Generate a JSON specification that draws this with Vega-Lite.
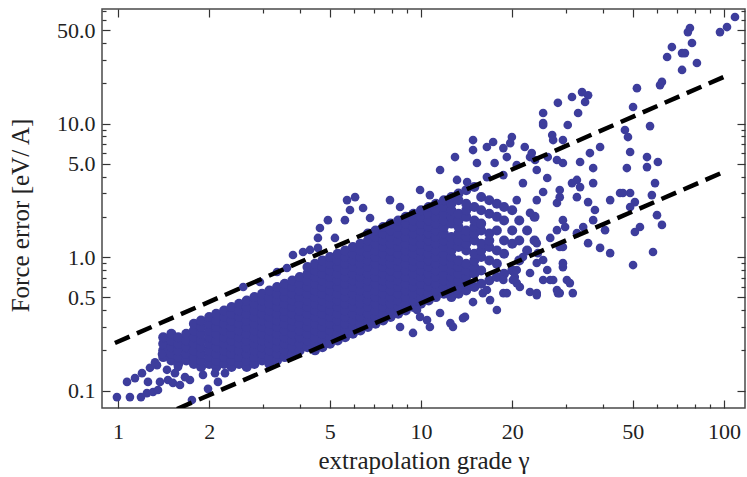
{
"$schema":"https://vega.github.io/schema/vega-lite/v6.json",
"width":643,"height":399,
"autosize":{"type":"none"},
"padding":{"left":102,"top":9,"right":2,"bottom":69},
"background":"white",
"config":{
 "view":{"stroke":"#4a4a4a","strokeWidth":1.5},
 "axis":{"domain":false,"grid":false,"tickColor":"#333","tickWidth":1.2,"labelFont":"Liberation Serif","labelFontSize":22,"labelColor":"#222","labelFlush":false,"labelOverlap":false,"titleFont":"Liberation Serif","titleFontSize":25,"titleFontWeight":"normal","titleColor":"#222"}
},
"datasets":{
"core":[
{"gamma":1.41,"error":0.178},{"gamma":1.41,"error":0.2},{"gamma":1.41,"error":0.224},{"gamma":1.41,"error":0.251},
{"gamma":1.5,"error":0.168},{"gamma":1.5,"error":0.188},{"gamma":1.5,"error":0.211},{"gamma":1.5,"error":0.237},{"gamma":1.5,"error":0.266},
{"gamma":1.58,"error":0.158},{"gamma":1.58,"error":0.178},{"gamma":1.58,"error":0.2},{"gamma":1.58,"error":0.224},{"gamma":1.58,"error":0.251},
{"gamma":1.68,"error":0.168},{"gamma":1.68,"error":0.188},{"gamma":1.68,"error":0.211},{"gamma":1.68,"error":0.237},{"gamma":1.68,"error":0.266},
{"gamma":1.78,"error":0.158},{"gamma":1.78,"error":0.178},{"gamma":1.78,"error":0.2},{"gamma":1.78,"error":0.224},{"gamma":1.78,"error":0.251},{"gamma":1.78,"error":0.282},{"gamma":1.78,"error":0.316},
{"gamma":1.88,"error":0.15},{"gamma":1.88,"error":0.168},{"gamma":1.88,"error":0.188},{"gamma":1.88,"error":0.211},{"gamma":1.88,"error":0.237},{"gamma":1.88,"error":0.266},{"gamma":1.88,"error":0.299},{"gamma":1.88,"error":0.335},
{"gamma":2.0,"error":0.158},{"gamma":2.0,"error":0.178},{"gamma":2.0,"error":0.2},{"gamma":2.0,"error":0.224},{"gamma":2.0,"error":0.251},{"gamma":2.0,"error":0.282},{"gamma":2.0,"error":0.316},{"gamma":2.0,"error":0.355},
{"gamma":2.11,"error":0.15},{"gamma":2.11,"error":0.168},{"gamma":2.11,"error":0.188},{"gamma":2.11,"error":0.211},{"gamma":2.11,"error":0.237},{"gamma":2.11,"error":0.266},{"gamma":2.11,"error":0.299},{"gamma":2.11,"error":0.335},{"gamma":2.11,"error":0.376},
{"gamma":2.24,"error":0.158},{"gamma":2.24,"error":0.178},{"gamma":2.24,"error":0.2},{"gamma":2.24,"error":0.224},{"gamma":2.24,"error":0.251},{"gamma":2.24,"error":0.282},{"gamma":2.24,"error":0.316},{"gamma":2.24,"error":0.355},{"gamma":2.24,"error":0.398},
{"gamma":2.37,"error":0.15},{"gamma":2.37,"error":0.168},{"gamma":2.37,"error":0.188},{"gamma":2.37,"error":0.211},{"gamma":2.37,"error":0.237},{"gamma":2.37,"error":0.266},{"gamma":2.37,"error":0.299},{"gamma":2.37,"error":0.335},{"gamma":2.37,"error":0.376},{"gamma":2.37,"error":0.422},
{"gamma":2.51,"error":0.158},{"gamma":2.51,"error":0.178},{"gamma":2.51,"error":0.2},{"gamma":2.51,"error":0.224},{"gamma":2.51,"error":0.251},{"gamma":2.51,"error":0.282},{"gamma":2.51,"error":0.316},{"gamma":2.51,"error":0.355},{"gamma":2.51,"error":0.398},{"gamma":2.51,"error":0.447},
{"gamma":2.66,"error":0.15},{"gamma":2.66,"error":0.168},{"gamma":2.66,"error":0.188},{"gamma":2.66,"error":0.211},{"gamma":2.66,"error":0.237},{"gamma":2.66,"error":0.266},{"gamma":2.66,"error":0.299},{"gamma":2.66,"error":0.335},{"gamma":2.66,"error":0.376},{"gamma":2.66,"error":0.422},{"gamma":2.66,"error":0.473},
{"gamma":2.82,"error":0.158},{"gamma":2.82,"error":0.178},{"gamma":2.82,"error":0.2},{"gamma":2.82,"error":0.224},{"gamma":2.82,"error":0.251},{"gamma":2.82,"error":0.282},{"gamma":2.82,"error":0.316},{"gamma":2.82,"error":0.355},{"gamma":2.82,"error":0.398},{"gamma":2.82,"error":0.447},{"gamma":2.82,"error":0.501},
{"gamma":2.99,"error":0.168},{"gamma":2.99,"error":0.188},{"gamma":2.99,"error":0.211},{"gamma":2.99,"error":0.237},{"gamma":2.99,"error":0.266},{"gamma":2.99,"error":0.299},{"gamma":2.99,"error":0.335},{"gamma":2.99,"error":0.376},{"gamma":2.99,"error":0.422},{"gamma":2.99,"error":0.473},{"gamma":2.99,"error":0.531},
{"gamma":3.16,"error":0.158},{"gamma":3.16,"error":0.178},{"gamma":3.16,"error":0.2},{"gamma":3.16,"error":0.224},{"gamma":3.16,"error":0.251},{"gamma":3.16,"error":0.282},{"gamma":3.16,"error":0.316},{"gamma":3.16,"error":0.355},{"gamma":3.16,"error":0.398},{"gamma":3.16,"error":0.447},{"gamma":3.16,"error":0.501},{"gamma":3.16,"error":0.562},
{"gamma":3.35,"error":0.168},{"gamma":3.35,"error":0.188},{"gamma":3.35,"error":0.211},{"gamma":3.35,"error":0.237},{"gamma":3.35,"error":0.266},{"gamma":3.35,"error":0.299},{"gamma":3.35,"error":0.335},{"gamma":3.35,"error":0.376},{"gamma":3.35,"error":0.422},{"gamma":3.35,"error":0.473},{"gamma":3.35,"error":0.531},{"gamma":3.35,"error":0.596},
{"gamma":3.55,"error":0.178},{"gamma":3.55,"error":0.2},{"gamma":3.55,"error":0.224},{"gamma":3.55,"error":0.251},{"gamma":3.55,"error":0.282},{"gamma":3.55,"error":0.316},{"gamma":3.55,"error":0.355},{"gamma":3.55,"error":0.398},{"gamma":3.55,"error":0.447},{"gamma":3.55,"error":0.501},{"gamma":3.55,"error":0.562},{"gamma":3.55,"error":0.631},
{"gamma":3.76,"error":0.188},{"gamma":3.76,"error":0.211},{"gamma":3.76,"error":0.237},{"gamma":3.76,"error":0.266},{"gamma":3.76,"error":0.299},{"gamma":3.76,"error":0.335},{"gamma":3.76,"error":0.376},{"gamma":3.76,"error":0.422},{"gamma":3.76,"error":0.473},{"gamma":3.76,"error":0.531},{"gamma":3.76,"error":0.596},{"gamma":3.76,"error":0.668},
{"gamma":3.98,"error":0.2},{"gamma":3.98,"error":0.224},{"gamma":3.98,"error":0.251},{"gamma":3.98,"error":0.282},{"gamma":3.98,"error":0.316},{"gamma":3.98,"error":0.355},{"gamma":3.98,"error":0.398},{"gamma":3.98,"error":0.447},{"gamma":3.98,"error":0.501},{"gamma":3.98,"error":0.562},{"gamma":3.98,"error":0.631},{"gamma":3.98,"error":0.708},
{"gamma":4.22,"error":0.211},{"gamma":4.22,"error":0.237},{"gamma":4.22,"error":0.266},{"gamma":4.22,"error":0.299},{"gamma":4.22,"error":0.335},{"gamma":4.22,"error":0.376},{"gamma":4.22,"error":0.422},{"gamma":4.22,"error":0.473},{"gamma":4.22,"error":0.531},{"gamma":4.22,"error":0.596},{"gamma":4.22,"error":0.668},{"gamma":4.22,"error":0.75},{"gamma":4.22,"error":0.841},
{"gamma":4.47,"error":0.2},{"gamma":4.47,"error":0.224},{"gamma":4.47,"error":0.251},{"gamma":4.47,"error":0.282},{"gamma":4.47,"error":0.316},{"gamma":4.47,"error":0.355},{"gamma":4.47,"error":0.398},{"gamma":4.47,"error":0.447},{"gamma":4.47,"error":0.501},{"gamma":4.47,"error":0.562},{"gamma":4.47,"error":0.631},{"gamma":4.47,"error":0.708},{"gamma":4.47,"error":0.794},{"gamma":4.47,"error":0.891},
{"gamma":4.73,"error":0.211},{"gamma":4.73,"error":0.237},{"gamma":4.73,"error":0.266},{"gamma":4.73,"error":0.299},{"gamma":4.73,"error":0.335},{"gamma":4.73,"error":0.376},{"gamma":4.73,"error":0.422},{"gamma":4.73,"error":0.473},{"gamma":4.73,"error":0.531},{"gamma":4.73,"error":0.596},{"gamma":4.73,"error":0.668},{"gamma":4.73,"error":0.75},{"gamma":4.73,"error":0.841},{"gamma":4.73,"error":0.944},
{"gamma":5.01,"error":0.224},{"gamma":5.01,"error":0.251},{"gamma":5.01,"error":0.282},{"gamma":5.01,"error":0.316},{"gamma":5.01,"error":0.355},{"gamma":5.01,"error":0.398},{"gamma":5.01,"error":0.447},{"gamma":5.01,"error":0.501},{"gamma":5.01,"error":0.562},{"gamma":5.01,"error":0.631},{"gamma":5.01,"error":0.708},{"gamma":5.01,"error":0.794},{"gamma":5.01,"error":0.891},{"gamma":5.01,"error":1.0},
{"gamma":5.31,"error":0.237},{"gamma":5.31,"error":0.266},{"gamma":5.31,"error":0.299},{"gamma":5.31,"error":0.335},{"gamma":5.31,"error":0.376},{"gamma":5.31,"error":0.422},{"gamma":5.31,"error":0.473},{"gamma":5.31,"error":0.531},{"gamma":5.31,"error":0.596},{"gamma":5.31,"error":0.668},{"gamma":5.31,"error":0.75},{"gamma":5.31,"error":0.841},{"gamma":5.31,"error":0.944},{"gamma":5.31,"error":1.06},
{"gamma":5.62,"error":0.251},{"gamma":5.62,"error":0.282},{"gamma":5.62,"error":0.316},{"gamma":5.62,"error":0.355},{"gamma":5.62,"error":0.398},{"gamma":5.62,"error":0.447},{"gamma":5.62,"error":0.501},{"gamma":5.62,"error":0.562},{"gamma":5.62,"error":0.631},{"gamma":5.62,"error":0.708},{"gamma":5.62,"error":0.794},{"gamma":5.62,"error":0.891},{"gamma":5.62,"error":1.0},{"gamma":5.62,"error":1.12},
{"gamma":5.96,"error":0.266},{"gamma":5.96,"error":0.299},{"gamma":5.96,"error":0.335},{"gamma":5.96,"error":0.376},{"gamma":5.96,"error":0.422},{"gamma":5.96,"error":0.473},{"gamma":5.96,"error":0.531},{"gamma":5.96,"error":0.596},{"gamma":5.96,"error":0.668},{"gamma":5.96,"error":0.75},{"gamma":5.96,"error":0.841},{"gamma":5.96,"error":0.944},{"gamma":5.96,"error":1.06},{"gamma":5.96,"error":1.19},
{"gamma":6.31,"error":0.282},{"gamma":6.31,"error":0.316},{"gamma":6.31,"error":0.355},{"gamma":6.31,"error":0.398},{"gamma":6.31,"error":0.447},{"gamma":6.31,"error":0.501},{"gamma":6.31,"error":0.562},{"gamma":6.31,"error":0.631},{"gamma":6.31,"error":0.708},{"gamma":6.31,"error":0.794},{"gamma":6.31,"error":0.891},{"gamma":6.31,"error":1.0},{"gamma":6.31,"error":1.12},{"gamma":6.31,"error":1.26},
{"gamma":6.68,"error":0.299},{"gamma":6.68,"error":0.335},{"gamma":6.68,"error":0.376},{"gamma":6.68,"error":0.422},{"gamma":6.68,"error":0.473},{"gamma":6.68,"error":0.531},{"gamma":6.68,"error":0.596},{"gamma":6.68,"error":0.668},{"gamma":6.68,"error":0.75},{"gamma":6.68,"error":0.841},{"gamma":6.68,"error":0.944},{"gamma":6.68,"error":1.06},{"gamma":6.68,"error":1.19},{"gamma":6.68,"error":1.33},{"gamma":6.68,"error":1.5},
{"gamma":7.08,"error":0.316},{"gamma":7.08,"error":0.355},{"gamma":7.08,"error":0.398},{"gamma":7.08,"error":0.447},{"gamma":7.08,"error":0.501},{"gamma":7.08,"error":0.562},{"gamma":7.08,"error":0.631},{"gamma":7.08,"error":0.708},{"gamma":7.08,"error":0.794},{"gamma":7.08,"error":0.891},{"gamma":7.08,"error":1.0},{"gamma":7.08,"error":1.12},{"gamma":7.08,"error":1.26},{"gamma":7.08,"error":1.41},{"gamma":7.08,"error":1.58},
{"gamma":7.5,"error":0.335},{"gamma":7.5,"error":0.376},{"gamma":7.5,"error":0.422},{"gamma":7.5,"error":0.473},{"gamma":7.5,"error":0.531},{"gamma":7.5,"error":0.596},{"gamma":7.5,"error":0.668},{"gamma":7.5,"error":0.75},{"gamma":7.5,"error":0.841},{"gamma":7.5,"error":0.944},{"gamma":7.5,"error":1.06},{"gamma":7.5,"error":1.19},{"gamma":7.5,"error":1.33},{"gamma":7.5,"error":1.5},{"gamma":7.5,"error":1.68},
{"gamma":7.94,"error":0.355},{"gamma":7.94,"error":0.398},{"gamma":7.94,"error":0.447},{"gamma":7.94,"error":0.501},{"gamma":7.94,"error":0.562},{"gamma":7.94,"error":0.631},{"gamma":7.94,"error":0.708},{"gamma":7.94,"error":0.794},{"gamma":7.94,"error":0.891},{"gamma":7.94,"error":1.0},{"gamma":7.94,"error":1.12},{"gamma":7.94,"error":1.26},{"gamma":7.94,"error":1.41},{"gamma":7.94,"error":1.58},{"gamma":7.94,"error":1.78},
{"gamma":8.41,"error":0.376},{"gamma":8.41,"error":0.422},{"gamma":8.41,"error":0.473},{"gamma":8.41,"error":0.531},{"gamma":8.41,"error":0.596},{"gamma":8.41,"error":0.668},{"gamma":8.41,"error":0.75},{"gamma":8.41,"error":0.841},{"gamma":8.41,"error":0.944},{"gamma":8.41,"error":1.06},{"gamma":8.41,"error":1.19},{"gamma":8.41,"error":1.33},{"gamma":8.41,"error":1.5},{"gamma":8.41,"error":1.68},{"gamma":8.41,"error":1.88},
{"gamma":8.91,"error":0.398},{"gamma":8.91,"error":0.447},{"gamma":8.91,"error":0.501},{"gamma":8.91,"error":0.562},{"gamma":8.91,"error":0.631},{"gamma":8.91,"error":0.708},{"gamma":8.91,"error":0.794},{"gamma":8.91,"error":0.891},{"gamma":8.91,"error":1.0},{"gamma":8.91,"error":1.12},{"gamma":8.91,"error":1.26},{"gamma":8.91,"error":1.41},{"gamma":8.91,"error":1.58},{"gamma":8.91,"error":1.78},{"gamma":8.91,"error":2.0},
{"gamma":9.44,"error":0.422},{"gamma":9.44,"error":0.473},{"gamma":9.44,"error":0.531},{"gamma":9.44,"error":0.596},{"gamma":9.44,"error":0.668},{"gamma":9.44,"error":0.75},{"gamma":9.44,"error":0.841},{"gamma":9.44,"error":0.944},{"gamma":9.44,"error":1.06},{"gamma":9.44,"error":1.19},{"gamma":9.44,"error":1.33},{"gamma":9.44,"error":1.5},{"gamma":9.44,"error":1.68},{"gamma":9.44,"error":1.88},{"gamma":9.44,"error":2.11},
{"gamma":10.0,"error":0.447},{"gamma":10.0,"error":0.501},{"gamma":10.0,"error":0.562},{"gamma":10.0,"error":0.631},{"gamma":10.0,"error":0.708},{"gamma":10.0,"error":0.794},{"gamma":10.0,"error":0.891},{"gamma":10.0,"error":1.0},{"gamma":10.0,"error":1.12},{"gamma":10.0,"error":1.26},{"gamma":10.0,"error":1.41},{"gamma":10.0,"error":1.58},{"gamma":10.0,"error":1.78},{"gamma":10.0,"error":2.0},{"gamma":10.0,"error":2.24},
{"gamma":10.6,"error":0.473},{"gamma":10.6,"error":0.531},{"gamma":10.6,"error":0.596},{"gamma":10.6,"error":0.668},{"gamma":10.6,"error":0.75},{"gamma":10.6,"error":0.841},{"gamma":10.6,"error":0.944},{"gamma":10.6,"error":1.06},{"gamma":10.6,"error":1.19},{"gamma":10.6,"error":1.33},{"gamma":10.6,"error":1.5},{"gamma":10.6,"error":1.68},{"gamma":10.6,"error":1.88},{"gamma":10.6,"error":2.11},{"gamma":10.6,"error":2.37},
{"gamma":11.2,"error":0.501},{"gamma":11.2,"error":0.562},{"gamma":11.2,"error":0.631},{"gamma":11.2,"error":0.708},{"gamma":11.2,"error":0.794},{"gamma":11.2,"error":0.891},{"gamma":11.2,"error":1.0},{"gamma":11.2,"error":1.12},{"gamma":11.2,"error":1.26},{"gamma":11.2,"error":1.41},{"gamma":11.2,"error":1.58},{"gamma":11.2,"error":1.78},{"gamma":11.2,"error":2.0},{"gamma":11.2,"error":2.24},{"gamma":11.2,"error":2.51},
{"gamma":11.9,"error":0.531},{"gamma":11.9,"error":0.596},{"gamma":11.9,"error":0.668},{"gamma":11.9,"error":0.75},{"gamma":11.9,"error":0.841},{"gamma":11.9,"error":0.944},{"gamma":11.9,"error":1.06},{"gamma":11.9,"error":1.19},{"gamma":11.9,"error":1.33},{"gamma":11.9,"error":1.5},{"gamma":11.9,"error":1.68},{"gamma":11.9,"error":1.88},{"gamma":11.9,"error":2.11},{"gamma":11.9,"error":2.37},{"gamma":11.9,"error":2.66},
{"gamma":12.6,"error":0.501},{"gamma":12.6,"error":0.562},{"gamma":12.6,"error":0.631},{"gamma":12.6,"error":0.708},{"gamma":12.6,"error":0.794},{"gamma":12.6,"error":0.891},{"gamma":12.6,"error":1.0},{"gamma":12.6,"error":1.12},{"gamma":12.6,"error":1.26},{"gamma":12.6,"error":1.41},{"gamma":12.6,"error":1.78},{"gamma":12.6,"error":2.0},{"gamma":12.6,"error":2.24},{"gamma":12.6,"error":2.51},{"gamma":12.6,"error":2.82},
{"gamma":13.3,"error":0.531},{"gamma":13.3,"error":0.596},{"gamma":13.3,"error":0.668},{"gamma":13.3,"error":0.75},{"gamma":13.3,"error":0.841},{"gamma":13.3,"error":0.944},{"gamma":13.3,"error":1.19},{"gamma":13.3,"error":1.33},{"gamma":13.3,"error":1.5},{"gamma":13.3,"error":1.68},{"gamma":13.3,"error":1.88},{"gamma":13.3,"error":2.11},{"gamma":13.3,"error":2.66},{"gamma":13.3,"error":2.99},
{"gamma":14.1,"error":0.562},{"gamma":14.1,"error":0.631},{"gamma":14.1,"error":0.708},{"gamma":14.1,"error":0.794},{"gamma":14.1,"error":0.891},{"gamma":14.1,"error":1.12},{"gamma":14.1,"error":1.26},{"gamma":14.1,"error":1.41},{"gamma":14.1,"error":1.58},{"gamma":14.1,"error":2.0},{"gamma":14.1,"error":2.24},{"gamma":14.1,"error":2.51},{"gamma":14.1,"error":3.16},
{"gamma":15.0,"error":0.596},{"gamma":15.0,"error":0.75},{"gamma":15.0,"error":0.841},{"gamma":15.0,"error":0.944},{"gamma":15.0,"error":1.06},{"gamma":15.0,"error":1.33},{"gamma":15.0,"error":1.5},{"gamma":15.0,"error":1.68},{"gamma":15.0,"error":1.88},{"gamma":15.0,"error":2.37},{"gamma":15.0,"error":3.35},
{"gamma":15.8,"error":0.631},{"gamma":15.8,"error":0.794},{"gamma":15.8,"error":1.0},{"gamma":15.8,"error":1.12},{"gamma":15.8,"error":1.26},{"gamma":15.8,"error":1.58},{"gamma":15.8,"error":1.78},{"gamma":15.8,"error":2.24},{"gamma":15.8,"error":2.82},
{"gamma":16.8,"error":0.668},{"gamma":16.8,"error":0.944},{"gamma":16.8,"error":1.19},{"gamma":16.8,"error":1.33},{"gamma":16.8,"error":1.5},{"gamma":16.8,"error":2.11},{"gamma":16.8,"error":2.66},
{"gamma":17.8,"error":0.708},{"gamma":17.8,"error":0.891},{"gamma":17.8,"error":1.12},{"gamma":17.8,"error":1.58},{"gamma":17.8,"error":2.0},{"gamma":17.8,"error":2.51},
{"gamma":18.8,"error":0.75},{"gamma":18.8,"error":1.06},{"gamma":18.8,"error":1.33},{"gamma":18.8,"error":1.88},{"gamma":18.8,"error":2.37},
{"gamma":20.0,"error":0.794},{"gamma":20.0,"error":1.26},{"gamma":20.0,"error":1.58},{"gamma":20.0,"error":2.24},
{"gamma":21.1,"error":0.944},{"gamma":21.1,"error":1.33},{"gamma":21.1,"error":1.88},
{"gamma":22.4,"error":1.12},{"gamma":22.4,"error":1.58},
{"gamma":23.7,"error":1.33},{"gamma":23.7,"error":2.0}
],
"scatter":[
{"gamma":0.992,"error":0.0893},{"gamma":1.095,"error":0.0893},{"gamma":1.191,"error":0.0893},{"gamma":1.246,"error":0.0957},{"gamma":1.305,"error":0.0975},{"gamma":1.355,"error":0.101},{"gamma":1.071,"error":0.116},{"gamma":1.138,"error":0.124},{"gamma":1.2,"error":0.135},{"gamma":1.275,"error":0.148},{"gamma":1.345,"error":0.155},{"gamma":1.397,"error":0.188},{"gamma":1.256,"error":0.116},{"gamma":1.376,"error":0.116},{"gamma":1.462,"error":0.12},{"gamma":1.519,"error":0.114},{"gamma":1.602,"error":0.11},{"gamma":1.451,"error":0.143},{"gamma":1.542,"error":0.135},{"gamma":1.578,"error":0.15},{"gamma":1.728,"error":0.12},{"gamma":1.908,"error":0.131},{"gamma":2.09,"error":0.135},{"gamma":2.255,"error":0.135},{"gamma":2.138,"error":0.116},{"gamma":1.982,"error":0.103},{"gamma":1.754,"error":0.085},{"gamma":1.325,"error":0.163},{"gamma":1.664,"error":0.126},
{"gamma":4.93,"error":1.89},{"gamma":4.64,"error":1.65},{"gamma":4.57,"error":1.39},{"gamma":5.2,"error":1.39},{"gamma":3.78,"error":1.035},{"gamma":4.08,"error":1.09},{"gamma":4.3,"error":1.13},{"gamma":4.57,"error":1.17},{"gamma":3.35,"error":0.772},{"gamma":3.61,"error":0.828},{"gamma":2.94,"error":0.65},{"gamma":2.59,"error":0.596},
{"gamma":5.7,"error":2.67},{"gamma":6.06,"error":2.81},{"gamma":6.44,"error":2.33},{"gamma":5.83,"error":2.25},{"gamma":6.79,"error":1.96},{"gamma":5.61,"error":1.89},{"gamma":7.9,"error":2.67},{"gamma":8.53,"error":2.37},{"gamma":9.93,"error":3.18},{"gamma":10.7,"error":2.91},{"gamma":11.56,"error":4.49},{"gamma":12.95,"error":5.61},{"gamma":14.85,"error":7.52},{"gamma":14.85,"error":6.33},{"gamma":16.5,"error":6.67},{"gamma":17.3,"error":7.27},{"gamma":18.7,"error":6.55},{"gamma":19.95,"error":7.92},{"gamma":25.3,"error":9.75},{"gamma":27.1,"error":8.2},{"gamma":29.4,"error":7.52},{"gamma":15.3,"error":5.06},{"gamma":17.5,"error":5.06},{"gamma":19.2,"error":5.61},{"gamma":20.7,"error":4.89},{"gamma":22.9,"error":5.61},{"gamma":24.1,"error":4.49},{"gamma":26.1,"error":3.91},{"gamma":29.4,"error":5.06},{"gamma":13.15,"error":3.78},{"gamma":14.2,"error":3.65},{"gamma":16.5,"error":3.97},{"gamma":18.7,"error":4.11},{"gamma":21.7,"error":3.58},{"gamma":25.3,"error":3.07},{"gamma":28.7,"error":3.18},{"gamma":24.1,"error":2.67},{"gamma":28.1,"error":2.54},{"gamma":29.4,"error":1.89},{"gamma":22.9,"error":2.14},{"gamma":20.7,"error":2.67},
{"gamma":13.15,"error":0.566},{"gamma":14.85,"error":0.46},{"gamma":16.0,"error":0.537},{"gamma":17.8,"error":0.401},{"gamma":18.7,"error":0.673},{"gamma":20.4,"error":0.708},{"gamma":21.2,"error":0.596},{"gamma":24.1,"error":0.519},{"gamma":22.9,"error":0.759},{"gamma":26.1,"error":0.8},{"gamma":29.4,"error":0.841},{"gamma":28.7,"error":0.537},{"gamma":26.7,"error":0.673},{"gamma":29.4,"error":1.19},{"gamma":28.1,"error":1.59},{"gamma":24.1,"error":1.27},{"gamma":21.7,"error":1.0},{"gamma":25.3,"error":0.95},
{"gamma":10.7,"error":0.299},{"gamma":12.5,"error":0.32},{"gamma":9.93,"error":0.356},{"gamma":13.97,"error":0.356},{"gamma":9.41,"error":0.27},{"gamma":8.53,"error":0.299},{"gamma":12.75,"error":0.3},{"gamma":13.76,"error":0.349},{"gamma":11.56,"error":0.381},{"gamma":10.47,"error":0.337},{"gamma":9.7,"error":0.401},{"gamma":16.9,"error":0.476},{"gamma":18.7,"error":0.537},{"gamma":20.7,"error":0.638},{"gamma":22.9,"error":0.547},{"gamma":25.3,"error":0.673},{"gamma":28.1,"error":0.566},{"gamma":30.3,"error":0.673},{"gamma":24.1,"error":0.902},{"gamma":20.7,"error":0.8},{"gamma":16.5,"error":0.566},
{"gamma":108.7,"error":62.8},{"gamma":102.3,"error":52.8},{"gamma":97.0,"error":48.4},{"gamma":77.2,"error":51.9},{"gamma":76.0,"error":48.4},{"gamma":78.4,"error":40.1},{"gamma":67.3,"error":37.4},{"gamma":64.9,"error":31.5},{"gamma":72.7,"error":33.7},{"gamma":74.3,"error":33.7},{"gamma":81.4,"error":28.4},{"gamma":72.7,"error":25.2},{"gamma":62.4,"error":20.5},{"gamma":61.5,"error":19.4},{"gamma":51.6,"error":18.4},{"gamma":50.1,"error":13.3},{"gamma":57.0,"error":9.57},{"gamma":47.1,"error":8.94},{"gamma":48.2,"error":7.92},{"gamma":49.0,"error":6.12},{"gamma":55.7,"error":5.61},{"gamma":60.5,"error":5.15},{"gamma":47.8,"error":4.64},{"gamma":55.7,"error":4.72},{"gamma":59.2,"error":3.58},{"gamma":57.8,"error":2.91},{"gamma":50.8,"error":2.58},{"gamma":49.0,"error":3.02},{"gamma":46.4,"error":3.02},{"gamma":49.0,"error":2.37},{"gamma":60.1,"error":2.06},{"gamma":62.4,"error":1.74},{"gamma":52.8,"error":1.68},{"gamma":50.8,"error":1.54},{"gamma":58.3,"error":1.09},{"gamma":50.1,"error":0.871},
{"gamma":34.0,"error":17.2},{"gamma":35.6,"error":16.3},{"gamma":34.8,"error":14.5},{"gamma":31.5,"error":15.8},{"gamma":28.3,"error":14.3},{"gamma":33.0,"error":12.0},{"gamma":25.3,"error":12.0},{"gamma":25.3,"error":10.1},{"gamma":30.5,"error":9.75},{"gamma":27.3,"error":7.52},{"gamma":19.7,"error":7.14},{"gamma":22.0,"error":6.67},{"gamma":23.2,"error":6.01},{"gamma":23.8,"error":5.33},{"gamma":26.2,"error":5.61},{"gamma":28.1,"error":5.33},{"gamma":33.5,"error":5.15},{"gamma":36.1,"error":6.01},{"gamma":39.0,"error":6.67},{"gamma":37.0,"error":4.64},{"gamma":32.7,"error":3.78},{"gamma":31.5,"error":3.58},{"gamma":33.5,"error":3.34},{"gamma":37.0,"error":3.58},{"gamma":28.7,"error":2.81},{"gamma":32.7,"error":2.81},{"gamma":35.6,"error":2.58},{"gamma":37.5,"error":2.25},{"gamma":42.1,"error":2.67},{"gamma":45.4,"error":3.02},{"gamma":37.0,"error":1.89},{"gamma":34.3,"error":1.68},{"gamma":29.9,"error":1.68},{"gamma":32.7,"error":1.51},{"gamma":35.6,"error":1.27},{"gamma":39.0,"error":1.17},{"gamma":42.1,"error":1.07},{"gamma":40.5,"error":1.59},{"gamma":28.7,"error":1.19},{"gamma":26.7,"error":1.39},{"gamma":24.3,"error":1.07},{"gamma":29.4,"error":0.9},{"gamma":27.3,"error":0.673},{"gamma":31.0,"error":0.638},{"gamma":31.7,"error":0.537},{"gamma":28.3,"error":0.537},{"gamma":24.1,"error":0.537},{"gamma":20.1,"error":0.673},{"gamma":19.2,"error":0.537}
],
"lines":[
{"line":"upper","gamma":0.977,"error":0.227},{"line":"upper","gamma":99.7,"error":22.3},
{"line":"lower","gamma":1.566,"error":0.0727},{"line":"lower","gamma":99.7,"error":4.33}
]
},
"layer":[
{"data":{"name":"core"},
 "mark":{"type":"circle","size":100,"color":"#3d3d9c","opacity":1},
 "encoding":{
  "x":{"field":"gamma","type":"quantitative","scale":{"type":"log","domain":[0.8856,117.3],"nice":false},
   "axis":{"orient":"bottom","values":[1,2,5,10,20,50,100],"format":"d","tickSize":-8,"labelPadding":21,"title":"extrapolation grade γ","titleY":52,"titleBaseline":"middle"}},
  "y":{"field":"error","type":"quantitative","scale":{"type":"log","domain":[0.074,72.1],"nice":false},
   "axis":{"orient":"left","values":[0.1,0.5,1,5,10,50],"format":".1f","tickSize":-8,"labelPadding":15,"title":"Force error [eV/ A]","titleX":-82,"titleY":206,"titleBaseline":"middle"}}
 }},
{"data":{"name":"scatter"},
 "mark":{"type":"circle","size":75,"color":"#3d3d9c","opacity":1},
 "encoding":{
  "x":{"field":"gamma","type":"quantitative","scale":{"type":"log","domain":[0.8856,117.3],"nice":false},
   "axis":{"orient":"top","values":[1,2,5,10,20,50,100],"labels":false,"tickSize":-8,"title":null}},
  "y":{"field":"error","type":"quantitative","scale":{"type":"log","domain":[0.074,72.1],"nice":false},
   "axis":{"orient":"right","values":[0.1,0.5,1,5,10,50],"labels":false,"tickSize":-8,"title":null}}
 }},
{"data":{"name":"lines"},"transform":[{"filter":"datum.line == 'upper'"}],
 "mark":{"type":"line","color":"black","strokeWidth":4.5,"strokeDash":[16,8],"strokeCap":"butt","clip":true},
 "encoding":{
  "x":{"field":"gamma","type":"quantitative","scale":{"type":"log","domain":[0.8856,117.3],"nice":false},
   "axis":{"orient":"bottom","values":[3,4,6,7,8,9,30,40,60,70,80,90],"labels":false,"tickSize":-4,"title":null}},
  "y":{"field":"error","type":"quantitative","scale":{"type":"log","domain":[0.074,72.1],"nice":false},
   "axis":{"orient":"left","values":[0.2,0.3,0.4,0.6,0.7,0.8,0.9,2,3,4,6,7,8,9,20,30,40,60,70],"labels":false,"tickSize":-4,"title":null}}
 }},
{"data":{"name":"lines"},"transform":[{"filter":"datum.line == 'lower'"}],
 "mark":{"type":"line","color":"black","strokeWidth":4.5,"strokeDash":[16,8],"strokeCap":"butt","clip":true},
 "encoding":{
  "x":{"field":"gamma","type":"quantitative","scale":{"type":"log","domain":[0.8856,117.3],"nice":false},
   "axis":{"orient":"top","values":[3,4,6,7,8,9,30,40,60,70,80,90],"labels":false,"tickSize":-4,"title":null}},
  "y":{"field":"error","type":"quantitative","scale":{"type":"log","domain":[0.074,72.1],"nice":false},
   "axis":{"orient":"right","values":[0.2,0.3,0.4,0.6,0.7,0.8,0.9,2,3,4,6,7,8,9,20,30,40,60,70],"labels":false,"tickSize":-4,"title":null}}
 }}
],
"resolve":{"axis":{"x":"independent","y":"independent"}}
}
